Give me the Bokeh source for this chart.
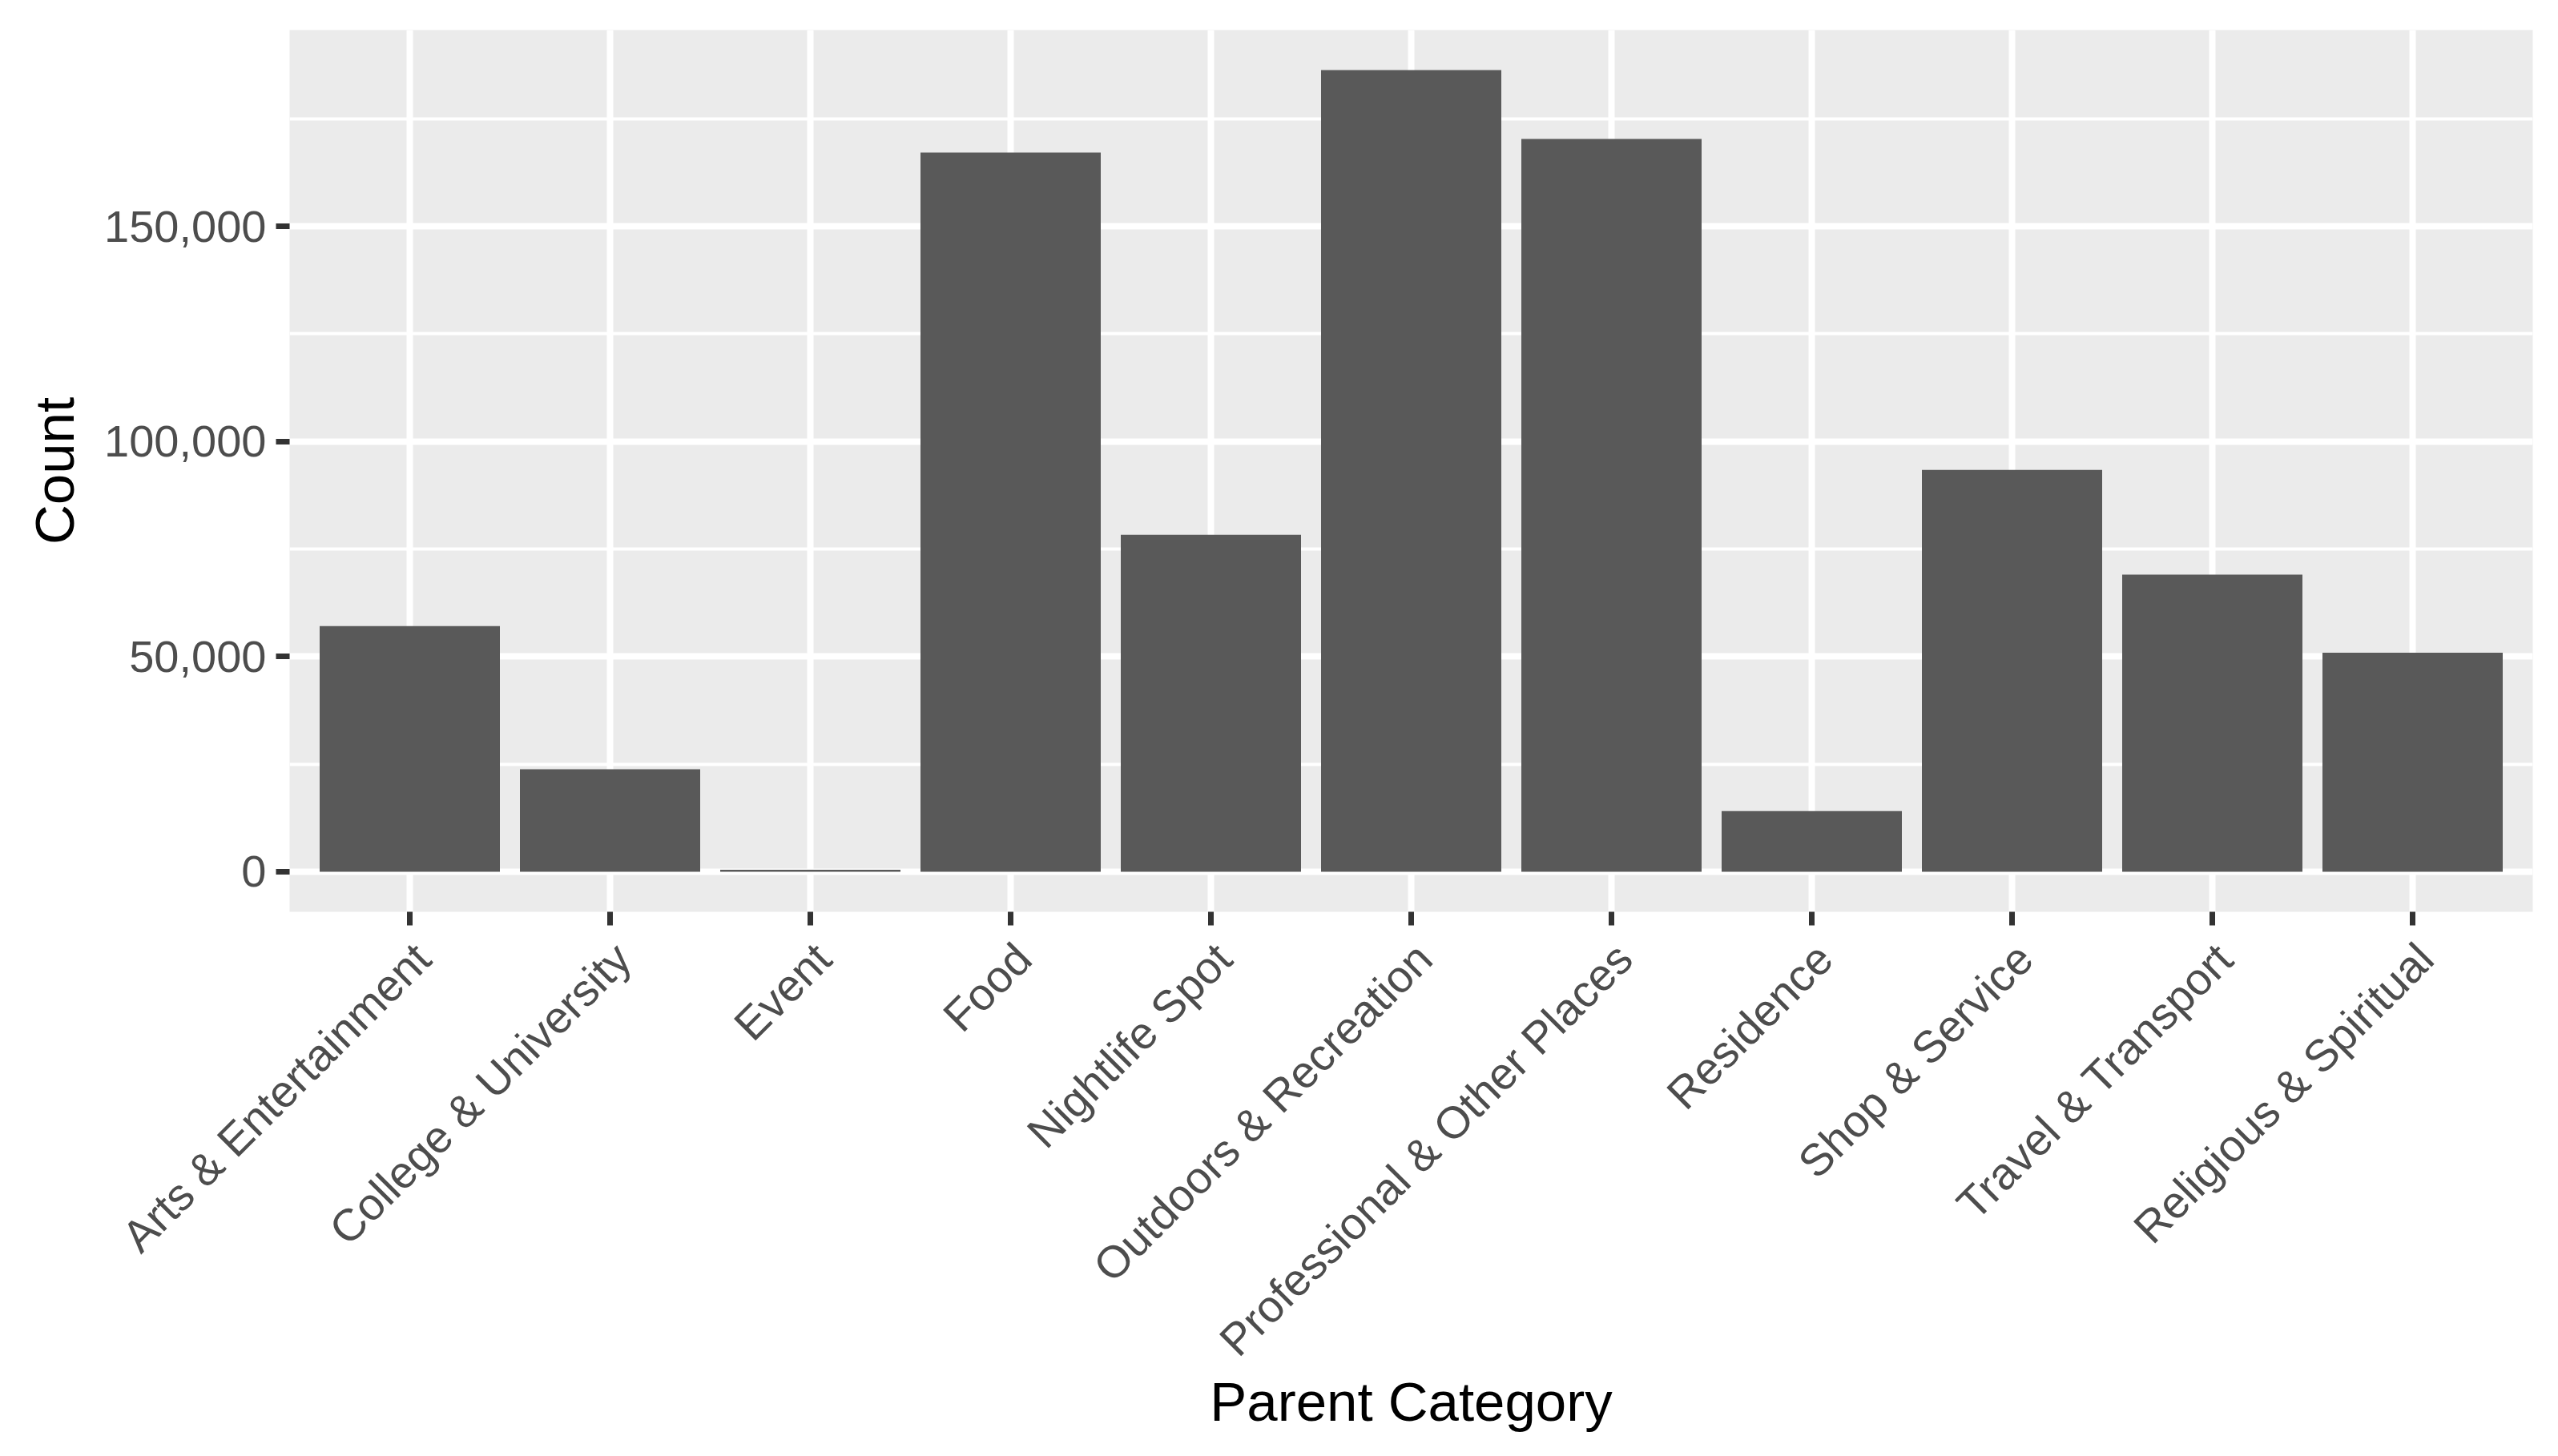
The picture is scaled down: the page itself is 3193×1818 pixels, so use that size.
import math
from bokeh.plotting import figure
from bokeh.models import Range1d, FixedTicker, NumeralTickFormatter, ColumnDataSource, LinearAxis
from bokeh.embed import file_html
from bokeh.resources import INLINE

categories = ["Arts & Entertainment", "College & University", "Event", "Food",
              "Nightlife Spot", "Outdoors & Recreation", "Professional & Other Places",
              "Residence", "Shop & Service", "Travel & Transport", "Religious & Spiritual"]
counts = [57100, 23830, 450, 167140, 78330, 186310, 170300, 14100, 93400, 69070, 50890]
y_ticks = [0, 50000, 100000, 150000]
y_minor = [25000, 75000, 125000, 175000]

positions = list(range(1, len(categories) + 1))
ymax = max(counts)
pad = 0.05 * ymax
label_shift = 0.064  # ggplot hjust/vjust anchoring of rotated labels
label_positions = [pos + label_shift for pos in positions]

FONT = "Liberation Sans"

p = figure(frame_width=2800, frame_height=1101,
           x_range=Range1d(0.4, len(categories) + 0.6),
           y_range=Range1d(-pad, ymax + pad),
           output_backend="svg", toolbar_location=None,
           min_border_left=361, min_border_right=16,
           min_border_top=37, min_border_bottom=664)

src = ColumnDataSource(dict(x=positions, top=counts))
p.vbar(x="x", top="top", bottom=0, width=0.9, source=src,
       fill_color="#595959", line_color=None)

p.background_fill_color = "#EBEBEB"
p.border_fill_color = "white"
p.outline_line_color = None

# grids
p.xgrid.ticker = FixedTicker(ticks=positions)
p.xgrid.grid_line_color = "white"
p.xgrid.grid_line_width = 8
p.ygrid.ticker = FixedTicker(ticks=y_ticks, minor_ticks=y_minor)
p.ygrid.grid_line_color = "white"
p.ygrid.grid_line_width = 8
p.ygrid.minor_grid_line_color = "white"
p.ygrid.minor_grid_line_width = 4
p.grid.level = "image"

# x axis: tick marks only
xa = p.xaxis[0]
xa.ticker = FixedTicker(ticks=positions)
xa.major_label_overrides = {pos: "" for pos in positions}
xa.major_label_text_font_size = "1px"
xa.major_label_standoff = 0
xa.axis_line_color = None
xa.major_tick_line_color = "#333333"
xa.major_tick_line_width = 7
xa.major_tick_in = 0
xa.major_tick_out = 17
xa.minor_tick_line_color = None

# x axis: rotated category labels
xl = LinearAxis(ticker=FixedTicker(ticks=label_positions))
xl.major_label_overrides = {lp: cat for lp, cat in zip(label_positions, categories)}
xl.major_label_orientation = math.pi / 4
xl.axis_line_color = None
xl.major_tick_line_color = None
xl.major_tick_in = 0
xl.major_tick_out = 0
xl.minor_tick_line_color = None
xl.major_label_text_font = FONT
xl.major_label_text_font_size = "56px"
xl.major_label_text_color = "#4D4D4D"
xl.major_label_standoff = 32
xl.axis_label = "Parent Category"
xl.axis_label_text_font = FONT
xl.axis_label_text_font_size = "69px"
xl.axis_label_text_font_style = "normal"
xl.axis_label_text_color = "black"
xl.axis_label_standoff = -18
p.add_layout(xl, "below")

# y axis
ya = p.yaxis[0]
ya.ticker = FixedTicker(ticks=y_ticks)
ya.formatter = NumeralTickFormatter(format="0,0")
ya.axis_label = "Count"
ya.axis_line_color = None
ya.major_tick_line_color = "#333333"
ya.major_tick_line_width = 7
ya.major_tick_in = 0
ya.major_tick_out = 17
ya.minor_tick_line_color = None
ya.major_label_text_font = FONT
ya.major_label_text_font_size = "56px"
ya.major_label_text_color = "#4D4D4D"
ya.major_label_standoff = 12
ya.axis_label_text_font = FONT
ya.axis_label_text_font_size = "69px"
ya.axis_label_text_font_style = "normal"
ya.axis_label_text_color = "black"
ya.axis_label_standoff = 20

open("out.html", "w").write(file_html(p, INLINE))
